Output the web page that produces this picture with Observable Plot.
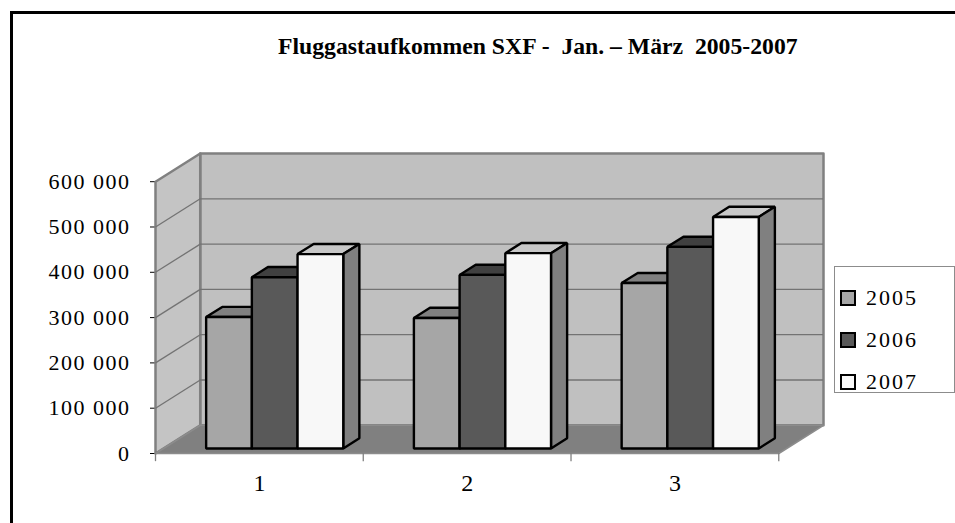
<!DOCTYPE html>
<html>
<head>
<meta charset="utf-8">
<script src="https://cdn.jsdelivr.net/npm/d3@7"></script>
<script src="https://cdn.jsdelivr.net/npm/@observablehq/plot@0.6"></script>
<style>
  html, body { margin: 0; padding: 0; background: #fff; width: 955px; height: 523px; overflow: hidden; }
  #wrap { position: relative; width: 955px; height: 523px; }
  #frame { position: absolute; left: 10px; top: 11px; width: 960px; height: 530px; border: 3px solid #000; box-sizing: border-box; }
  #title { position: absolute; left: 278px; top: 34px; font-family: "Liberation Serif", serif; font-weight: bold; font-size: 23.7px; line-height: 24px; white-space: pre; color: #000; }
  #chart { position: absolute; left: 0; top: 0; }
  #chart svg text { font-family: "Liberation Serif", serif !important; font-variant: normal !important; }
  #chart g[aria-label^="x-axis"] text { font-size: 24px !important; }
  #chart g[aria-label^="y-axis"] text { font-size: 22px !important; letter-spacing: 1.5px; }
  #legend { position: absolute; left: 834px; top: 266px; width: 121px; height: 127px; border: 1.5px solid #8c8c8c; box-sizing: border-box; background: #fff; }
  .item { position: absolute; left: 5px; height: 24px; display: flex; align-items: center; font-family: "Liberation Serif", serif; font-size: 22px; letter-spacing: 2px; }
  .sw { width: 16px; height: 16px; border: 2px solid #000; box-sizing: border-box; margin-right: 10px; }
</style>
</head>
<body>
<div id="wrap">
  <div id="frame"></div>
  <div id="chart"></div>
  <div id="title"></div>
  <div id="legend"></div>
</div>
<script>
// ---- data ----
const titleText = "Fluggastaufkommen SXF -  Jan. \u2013 M\u00e4rz  2005-2007";
const categories = ["1", "2", "3"];
const years = ["2005", "2006", "2007"];
const values2005 = [290000, 288000, 365000];
const values2006 = [378000, 383000, 445000];
const values2007 = [429000, 431000, 511000];
const yTicks = [0, 100000, 200000, 300000, 400000, 500000, 600000];

// ---- styles ----
const frontColors = ["#a6a6a6", "#595959", "#f8f8f8"];
const topColors = ["#808080", "#404040", "#c8c8c8"];
const sideColors = ["#6e6e6e", "#333333", "#808080"];

// depth of the oblique projection, expressed in scale units
const yMax = yTicks[yTicks.length - 1];
const DX = 0.2153;
const DY = 62222;
const zf = 0.18, zb = 0.54;          // bar front / back depth
const groupStart = 0.205, barW = 0.22;

const series = [values2005, values2006, values2007];
const n = categories.length;

const P = (x, y, z) => [x + z * DX, y + z * DY];
const poly = (arr, id, fill, pts) => pts.forEach(([x, y]) => arr.push({id, fill, x, y}));

// walls / floor
const backWall = [], sideWall = [], floor = [];
poly(backWall, "back", "#c0c0c0", [P(0, 0, 1), P(n, 0, 1), P(n, yMax, 1), P(0, yMax, 1)]);
poly(sideWall, "side", "#c4c4c4", [P(0, 0, 0), P(0, yMax, 0), P(0, yMax, 1), P(0, 0, 1)]);
poly(floor, "floor", "#808080", [P(0, 0, 0), P(n, 0, 0), P(n, 0, 1), P(0, 0, 1)]);

// bars: painter's order, left to right: top, side, front
const barFaces = [];
categories.forEach((c, i) => {
  series.forEach((vals, j) => {
    const v = vals[i];
    const x1 = i + groupStart + j * barW, x2 = x1 + barW;
    const id = c + "-" + years[j];
    poly(barFaces, id + "-top", topColors[j], [P(x1, v, zf), P(x2, v, zf), P(x2, v, zb), P(x1, v, zb)]);
    poly(barFaces, id + "-side", sideColors[j], [P(x2, 0, zf), P(x2, v, zf), P(x2, v, zb), P(x2, 0, zb)]);
    poly(barFaces, id + "-front", frontColors[j], [P(x1, 0, zf), P(x2, 0, zf), P(x2, v, zf), P(x1, v, zf)]);
  });
});

const gridVals = yTicks.filter(v => v > 0 && v < yMax);
const fmt = d => d3.format(",")(d).replace(/,/g, " ");

const chart = Plot.plot({
  width: 955, height: 523,
  marginLeft: 155, marginRight: 132, marginTop: 153, marginBottom: 70,
  style: {fontFamily: "'Liberation Serif', serif", fontSize: "21px", background: "transparent", color: "#000", overflow: "visible"},
  color: {type: "identity"},
  x: {type: "linear", domain: [0, n + DX], ticks: categories.map((c, i) => i + 0.5), tickFormat: v => categories[Math.floor(v)], tickSize: 0, tickPadding: 20, label: null},
  y: {type: "linear", domain: [0, yMax + DY], ticks: yTicks, tickFormat: fmt, tickSize: 5, tickPadding: 20, label: null},
  marks: [
    Plot.line(backWall, {x: "x", y: "y", z: "id", fill: "fill", stroke: "#808080", strokeWidth: 2.5, curve: "linear-closed"}),
    Plot.line(sideWall, {x: "x", y: "y", z: "id", fill: "fill", stroke: "#808080", strokeWidth: 2.5, curve: "linear-closed"}),
    Plot.ruleY(gridVals, {y: v => v + DY, x1: () => DX, x2: () => n + DX, stroke: "#737373", strokeWidth: 1.3}),
    Plot.link(gridVals, {x1: () => 0, y1: v => v, x2: () => DX, y2: v => v + DY, stroke: "#737373", strokeWidth: 1.3}),
    Plot.line(floor, {x: "x", y: "y", z: "id", fill: "fill", stroke: "#8c8c8c", strokeWidth: 1.5, curve: "linear-closed"}),
    Plot.ruleX(d3.range(n + 1), {x: d => d, y1: () => 0, y2: () => -18000, stroke: "#808080", strokeWidth: 1.3}),
    Plot.line(barFaces, {x: "x", y: "y", z: "id", fill: "fill", stroke: "#000", strokeWidth: 2.4, strokeLinejoin: "miter", curve: "linear-closed"})
  ]
});
document.getElementById("chart").appendChild(chart);
document.getElementById("title").textContent = titleText;

// legend
const legend = document.getElementById("legend");
const rowTops = [19, 61, 103];
years.forEach((yr, j) => {
  const item = document.createElement("div");
  item.className = "item";
  item.style.top = rowTops[j] + "px";
  const sw = document.createElement("div");
  sw.className = "sw";
  sw.style.background = frontColors[j];
  const t = document.createElement("span");
  t.textContent = yr;
  item.appendChild(sw);
  item.appendChild(t);
  legend.appendChild(item);
});
</script>
</body>
</html>
